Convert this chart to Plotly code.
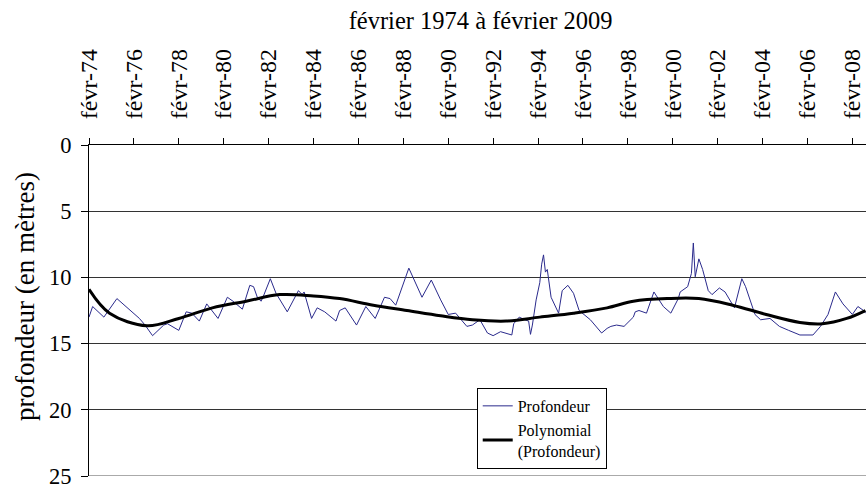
import plotly.graph_objects as go

# niveau de la nappe (profondeur en metres)
dates = [
    "1974-02", "1974-04", "1974-10", "1975-05", "1976-05", "1976-08", "1976-12",
    "1977-06", "1977-08", "1978-02", "1978-06", "1978-09", "1979-01", "1979-05",
    "1979-11", "1980-04", "1980-07", "1980-12", "1981-04", "1981-06", "1981-08",
    "1981-10", "1981-11", "1982-03", "1982-06", "1982-12", "1983-06", "1983-08",
    "1983-09", "1984-01", "1984-04", "1984-08", "1985-02", "1985-04", "1985-07",
    "1986-01", "1986-06", "1986-11", "1987-04", "1987-07", "1987-10", "1988-05",
    "1988-12", "1989-05", "1989-10", "1990-02", "1990-06", "1990-09", "1990-12",
    "1991-03", "1991-07", "1991-11", "1992-02", "1992-06", "1992-09", "1992-12",
    "1993-01", "1993-04", "1993-07", "1993-09", "1993-10", "1993-11", "1994-01",
    "1994-03", "1994-04", "1994-05", "1994-06", "1994-07", "1994-09", "1995-01",
    "1995-03", "1995-06", "1995-09", "1995-12", "1996-06", "1996-12", "1997-03",
    "1997-05", "1997-08", "1997-12", "1998-05", "1998-06", "1998-08", "1998-12",
    "1999-04", "1999-06", "1999-09", "2000-01", "2000-05", "2000-06", "2000-10",
    "2000-12", "2001-01", "2001-02", "2001-04", "2001-06", "2001-09", "2001-11",
    "2002-03", "2002-06", "2002-11", "2003-03", "2003-05", "2003-10", "2004-01",
    "2004-06", "2004-11", "2005-04", "2005-10", "2006-05", "2006-09", "2007-01",
    "2007-05", "2007-09", "2008-02", "2008-05", "2008-08", "2008-09",
]
profondeur = [
    13.0, 12.2, 13.0, 11.6, 13.1, 13.6, 14.4,
    13.6, 13.5, 14.0, 12.6, 12.7, 13.3, 12.0,
    13.1, 11.5, 11.8, 12.4, 10.6, 10.7, 11.5,
    11.8, 11.5, 10.1, 11.2, 12.6, 11.0, 11.3,
    11.1, 13.1, 12.3, 12.6, 13.3, 12.5, 12.3,
    13.6, 12.2, 13.1, 11.5, 11.6, 12.1, 9.3,
    11.5, 10.2, 11.7, 12.8, 12.7, 13.2, 13.7,
    13.6, 13.2, 14.2, 14.4, 14.1, 14.2, 14.35,
    13.5, 13.0, 13.2, 13.3, 14.3, 13.6, 11.7,
    10.4, 9.0, 8.3, 9.6, 9.4, 11.5, 12.7,
    11.0, 10.6, 11.2, 12.5, 13.2, 14.2, 13.85,
    13.7, 13.6, 13.7, 13.0, 12.6, 12.5, 12.7,
    11.1, 11.5, 12.2, 12.7, 11.6, 11.1, 10.7,
    9.7, 7.4, 9.95, 8.6, 9.4, 11.0, 11.3,
    10.8, 11.1, 12.3, 10.1, 10.7, 12.8, 13.2,
    13.1, 13.7, 14.0, 14.35, 14.35, 13.7, 12.8,
    11.1, 12.0, 12.8, 12.2, 12.5, 12.7,
]

# courbe de tendance polynomiale
dates_tendance = [
    "1974-02", "1975-01", "1976-09", "1978-02", "1979-08", "1981-02", "1982-08",
    "1984-02", "1985-04", "1986-10", "1988-04", "1989-10", "1991-03", "1992-09",
    "1994-03", "1995-09", "1997-03", "1998-05", "1999-11", "2001-04", "2002-10",
    "2004-04", "2005-10", "2006-10", "2007-11", "2008-09",
]
tendance = [
    10.9, 12.7, 13.65, 13.1, 12.3, 11.8, 11.3,
    11.4, 11.6, 12.1, 12.5, 12.9, 13.2, 13.3,
    13.0, 12.7, 12.3, 11.8, 11.6, 11.6, 12.1,
    12.8, 13.4, 13.5, 13.1, 12.5,
]

tick_dates = ["%d-02-01" % a for a in range(1974, 2009, 2)]
tick_labels = ["févr-%02d" % (a % 100) for a in range(1974, 2009, 2)]

police = "Liberation Serif, Times New Roman, serif"

fig = go.Figure()
fig.add_trace(go.Scatter(x=dates, y=profondeur, mode="lines", name="Profondeur",
                         line=dict(color="#2a2a8c", width=1)))
fig.add_trace(go.Scatter(x=dates_tendance, y=tendance, mode="lines",
                         name="Polynomial<br>(Profondeur)",
                         line=dict(color="black", width=3, shape="spline")))

# la page garde 8 px en haut : marges verticales decalees d'autant
fig.update_layout(
    width=866, height=484,
    margin=dict(l=89, r=0, t=137, b=16),
    paper_bgcolor="white", plot_bgcolor="white",
    font=dict(family=police, color="black", size=22),
    title=dict(text="février 1974 à février 2009", x=0.555, xanchor="center",
               y=0.975, yanchor="middle", font=dict(size=24.5)),
    legend=dict(x=0.499, y=0.266, xanchor="left", yanchor="top",
                bgcolor="white", bordercolor="black", borderwidth=1,
                font=dict(size=16), itemwidth=30),
    xaxis=dict(side="top", range=["1974-02-01", "2008-09-10"],
               tickvals=tick_dates, ticktext=tick_labels, tickangle=-90,
               tickfont=dict(size=24), ticklabelstandoff=14,
               ticks="outside", ticklen=6, tickcolor="black",
               showline=True, linecolor="black", linewidth=1,
               showgrid=False, zeroline=False, automargin=False),
    yaxis=dict(range=[25, 0], tickvals=[0, 5, 10, 15, 20, 25],
               tickfont=dict(size=22.5), ticklabelstandoff=5,
               ticks="outside", ticklen=7, tickcolor="black",
               showline=True, linecolor="black", linewidth=1,
               showgrid=True, gridcolor="#333333", gridwidth=1.2,
               zeroline=False, automargin=False),
    annotations=[dict(text="profondeur (en mètres)", textangle=-90,
                      xref="paper", yref="paper", x=-0.0824, y=0.544,
                      xanchor="center", yanchor="middle", showarrow=False,
                      font=dict(size=27))],
    shapes=[dict(type="line", xref="paper", yref="y", x0=0, x1=1, y0=25, y1=25,
                 line=dict(color="#aaaaaa", width=2), layer="above")],
)

# pas de marge horizontale autour du graphique dans la page
fig.write_html("out.html", config={"displayModeBar": False},
               post_script="document.body.style.margin = '8px 0 0 0';")
